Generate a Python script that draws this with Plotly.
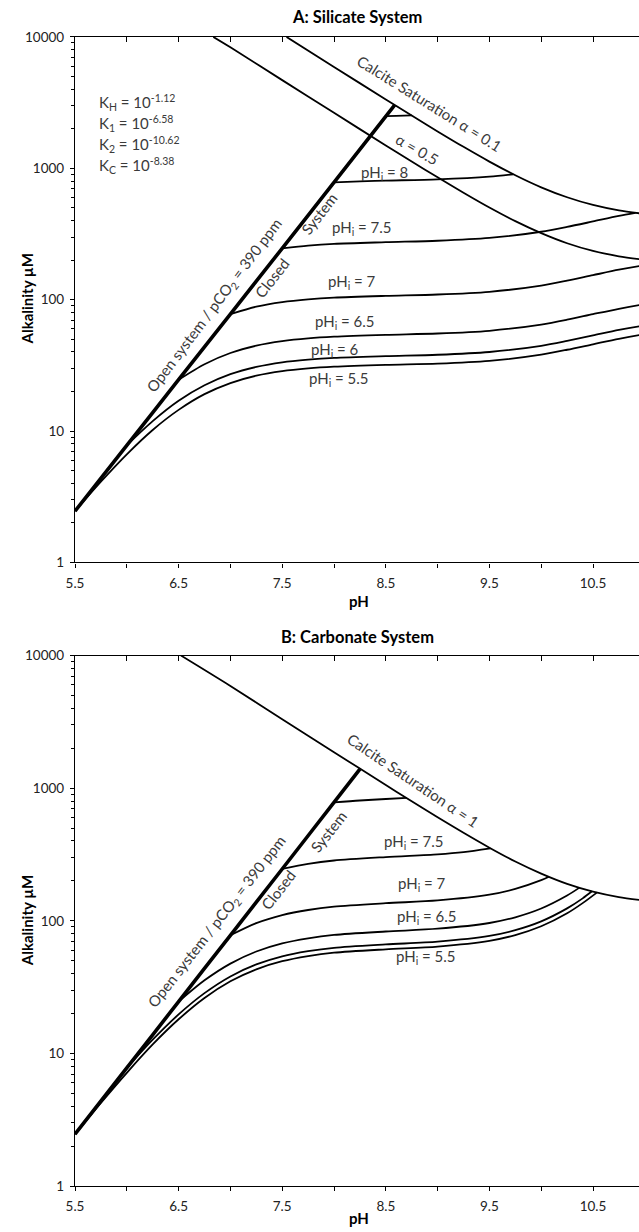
import plotly.graph_objects as go

# ---------------- DATA ----------------
# Panel A: Silicate system
open_ph_A = [5.5, 6.0, 6.5, 7.0, 7.5, 8.0, 8.585]
open_alk_A = [2.46, 7.78, 24.6, 77.8, 246, 782, 3030]

sat01_ph_A = [7.542, 8.0, 8.5, 8.75, 9.0, 9.25, 9.5, 9.75, 10.0, 10.25, 10.5, 10.75, 11.0, 11.1]
sat01_alk_A = [10000, 5910, 3341, 2520, 1909, 1457, 1125, 886, 717, 602, 526, 478, 449, 440]

sat05_ph_A = [6.835, 7.0, 7.5, 8.0, 8.5, 8.75, 9.0, 9.25, 9.5, 9.75, 10.0, 10.25, 10.5, 10.75, 11.0, 11.1]
sat05_alk_A = [10000, 8338, 4691, 2643, 1494, 1127, 854, 652, 503, 396, 321, 269, 235, 214, 201, 197]

A_ph_55 = [5.5, 5.75, 6.0, 6.25, 6.5, 6.75, 7.0, 7.25, 7.5, 7.75, 8.0, 8.5, 9.0, 9.5, 10.0, 10.25, 10.5, 10.75, 11.0, 11.1]
A_alk_55 = [2.46, 4.12, 6.66, 10.2, 14.5, 19.1, 23.2, 26.4, 28.6, 30.0, 30.9, 31.9, 32.6, 34.2, 38.2, 41.6, 45.8, 50.4, 54.6, 56.0]

A_ph_60 = [6.0, 6.25, 6.5, 6.75, 7.0, 7.25, 7.5, 7.75, 8.0, 8.5, 9.0, 9.5, 10.0, 10.25, 10.5, 10.75, 11.0, 11.1]
A_alk_60 = [7.79, 11.9, 17.0, 22.3, 27.1, 30.8, 33.4, 35.0, 36.1, 37.2, 38.1, 40.0, 44.6, 48.6, 53.5, 58.9, 63.8, 65.5]

A_ph_65 = [6.5, 6.75, 7.0, 7.25, 7.5, 7.75, 8.0, 8.5, 9.0, 9.5, 10.0, 10.25, 10.5, 10.75, 11.0, 11.1]
A_alk_65 = [24.6, 32.3, 39.3, 44.7, 48.4, 50.8, 52.3, 54.0, 55.3, 58.0, 64.7, 70.4, 77.6, 85.3, 92.5, 95.0]

A_ph_70 = [7.0, 7.25, 7.5, 7.75, 8.0, 8.5, 9.0, 9.5, 10.0, 10.25, 10.5, 10.75, 11.0, 11.1]
A_alk_70 = [77.8, 88.5, 95.9, 100.6, 103.7, 106.9, 109.5, 114.8, 128.1, 139.5, 153.7, 169.1, 183.2, 188.0]

A_ph_75 = [7.5, 7.75, 8.0, 8.5, 9.0, 9.5, 10.0, 10.25, 10.5, 10.75, 10.91]
A_alk_75 = [246, 258, 266, 274, 281, 295, 329, 358, 394, 434, 458]

A_ph_80 = [8.0, 8.25, 8.5, 9.0, 9.5, 9.73]
A_alk_80 = [781, 795, 806, 825, 865, 901]

A_ph_85 = [8.5, 8.6, 8.75]
A_alk_85 = [2497, 2508, 2527]

# Panel B: Carbonate system
open_ph_B = [5.5, 6.0, 6.5, 7.0, 7.5, 8.0, 8.25]
open_alk_B = [2.46, 7.78, 24.6, 77.8, 246, 782, 1395]

sat1_ph_B = [6.523, 7.0, 7.5, 8.0, 8.5, 8.75, 9.0, 9.25, 9.5, 9.75, 10.0, 10.25, 10.5, 10.75, 11.0, 11.1]
sat1_alk_B = [10000, 5896, 3317, 1869, 1056, 797, 604, 461, 356, 280, 227, 190, 166, 151, 142, 139]

B_ph_55 = [5.5, 5.75, 6.0, 6.25, 6.5, 6.75, 7.0, 7.25, 7.5, 7.75, 8.0, 8.5, 9.0, 9.5, 9.75, 10.0, 10.25, 10.4, 10.54]
B_alk_55 = [2.46, 4.24, 7.15, 11.7, 18.1, 26.2, 35.0, 43.1, 49.6, 54.2, 57.5, 61.0, 64.0, 70.7, 78.1, 91.0, 114, 136, 164]

B_ph_60 = [6.0, 6.25, 6.5, 6.75, 7.0, 7.25, 7.5, 7.75, 8.0, 8.5, 9.0, 9.5, 9.75, 10.0, 10.25, 10.4, 10.49]
B_alk_60 = [7.79, 12.7, 19.7, 28.5, 38.1, 46.9, 54.0, 59.0, 62.6, 66.4, 69.7, 77.0, 85.1, 99.1, 124.1, 147.7, 167]

B_ph_65 = [6.5, 6.75, 7.0, 7.25, 7.5, 7.75, 8.0, 8.5, 9.0, 9.5, 9.75, 10.0, 10.25, 10.37]
B_alk_65 = [24.6, 35.6, 47.6, 58.7, 67.6, 73.8, 78.3, 83.1, 87.2, 96.3, 106.4, 123.9, 155.2, 178]

B_ph_70 = [7.0, 7.25, 7.5, 7.75, 8.0, 8.5, 9.0, 9.5, 9.75, 10.0, 10.075]
B_alk_70 = [77.8, 96.0, 110.4, 120.7, 127.9, 135.8, 142.5, 157.4, 174.0, 202.5, 215]

B_ph_75 = [7.5, 7.75, 8.0, 8.5, 9.0, 9.25, 9.51]
B_alk_75 = [246, 268.8, 285, 302.6, 317.4, 329.8, 352]

B_ph_80 = [8.0, 8.25, 8.5, 8.7]
B_alk_80 = [781, 808, 829, 844]

x_tickvals = [5.5, 6.0, 6.5, 7.0, 7.5, 8.0, 8.5, 9.0, 9.5, 10.0, 10.5, 11.0]
x_ticktext = ["5.5", "", "6.5", "", "7.5", "", "8.5", "", "9.5", "", "10.5", ""]
y_tickvals = [1, 10, 100, 1000, 10000]
y_ticktext = ["1", "10", "100", "1000", "10000"]
y_minor = [m * d for d in (1, 10, 100, 1000) for m in range(2, 10)]

# ---------------- LAYOUT HELPERS ----------------
W, H = 639, 1232
L = 75             # x of the axis origin
UNIT = 103.6       # px per pH unit in the reference
SQ, SQ0 = 0.986, 8.8   # observed vertical placement correction
FONT = "Lato, 'Open Sans', sans-serif"
TXT = "#3a3a3a"


def px(xp):
    return (xp - L) / (W - L)


def py(yp):
    page = (yp - SQ0) / SQ
    return 1 - page / H


fig = go.Figure()


def line(xs, ys, xa, ya, w=1.8):
    fig.add_trace(go.Scatter(x=xs, y=ys, xaxis=xa, yaxis=ya, mode="lines",
                             line=dict(color="black", width=w, shape="spline", smoothing=0.8),
                             hoverinfo="skip", showlegend=False))


# Panel A traces
for xs, ys in [(sat01_ph_A, sat01_alk_A), (sat05_ph_A, sat05_alk_A),
               (A_ph_55, A_alk_55), (A_ph_60, A_alk_60), (A_ph_65, A_alk_65),
               (A_ph_70, A_alk_70), (A_ph_75, A_alk_75), (A_ph_80, A_alk_80),
               (A_ph_85, A_alk_85)]:
    line(xs, ys, "x", "y")
line(open_ph_A, open_alk_A, "x", "y", w=3.6)

# Panel B traces
for xs, ys in [(sat1_ph_B, sat1_alk_B),
               (B_ph_55, B_alk_55), (B_ph_60, B_alk_60), (B_ph_65, B_alk_65),
               (B_ph_70, B_alk_70), (B_ph_75, B_alk_75), (B_ph_80, B_alk_80)]:
    line(xs, ys, "x2", "y2")
line(open_ph_B, open_alk_B, "x2", "y2", w=3.6)

XR = [5.5, 5.5 + (W - L) / UNIT]
tickfont = dict(family=FONT, size=13.5, color="#222")

xcommon = dict(range=XR, tickmode="array", tickvals=x_tickvals, ticktext=x_ticktext,
               ticks="outside", ticklen=4, tickwidth=1, tickcolor="black",
               showline=True, linecolor="black", linewidth=1.2,
               showgrid=False, zeroline=False, tickfont=tickfont, ticklabelstandoff=4)
xtop = dict(range=XR, tickmode="array", tickvals=x_tickvals, ticks="inside", ticklen=5,
            tickwidth=1, tickcolor="black", showticklabels=False, side="top",
            showline=True, linecolor="black", linewidth=1.2, showgrid=False, zeroline=False)
ycommon = dict(type="log", range=[0, 4], tickmode="array", tickvals=y_tickvals, ticktext=y_ticktext,
               ticks="outside", ticklen=4, tickwidth=1, tickcolor="black",
               minor=dict(tickmode="array", tickvals=y_minor, ticks="outside", ticklen=3,
                          tickcolor="black", tickwidth=1, showgrid=False),
               showline=True, linecolor="black", linewidth=1.2,
               showgrid=False, zeroline=False, tickfont=tickfont, ticklabelstandoff=3)

yA = [py(562.7), py(37.7)]
yB = [py(1185.7), py(655.7)]

fig.update_layout(
    width=W, height=H, margin=dict(l=L, r=0, t=0, b=0),
    paper_bgcolor="white", plot_bgcolor="white",
    xaxis=dict(domain=[0, 1], anchor="y", **xcommon),
    yaxis=dict(domain=yA, anchor="x", **ycommon),
    xaxis2=dict(domain=[0, 1], anchor="y2", **xcommon),
    yaxis2=dict(domain=yB, anchor="x2", **ycommon),
    xaxis3=dict(overlaying="x", anchor="y", **xtop),
    xaxis4=dict(overlaying="x2", anchor="y2", **xtop),
)
# keep the top axes drawn
fig.add_trace(go.Scatter(x=[None], y=[None], xaxis="x3", yaxis="y", showlegend=False, hoverinfo="skip"))
fig.add_trace(go.Scatter(x=[None], y=[None], xaxis="x4", yaxis="y2", showlegend=False, hoverinfo="skip"))

ann = []


def text(s, xp, yp, size=15, angle=0, color=TXT, bold=False, xanchor="center"):
    ann.append(dict(text=("<b>%s</b>" % s) if bold else s, x=px(xp), y=py(yp),
                    xref="paper", yref="paper", showarrow=False, textangle=angle,
                    xanchor=xanchor, yanchor="middle",
                    font=dict(family=FONT, size=size, color=color)))


# Titles and axis titles
text("A: Silicate System", 357, 18, size=16.5, color="black", bold=True)
text("B: Carbonate System", 357, 637, size=16.5, color="black", bold=True)
text("Alkalinity µM", 27, 300, size=15, angle=-90, color="black", bold=True)
text("Alkalinity µM", 27, 921, size=15, angle=-90, color="black", bold=True)
text("pH", 359, 601, size=15, color="black", bold=True)
text("pH", 359, 1218, size=15, color="black", bold=True)

# Panel A labels
text("K<sub>H</sub> = 10<sup>-1.12</sup>", 97, 103, xanchor="left")
text("K<sub>1</sub> = 10<sup>-6.58</sup>", 97, 124, xanchor="left")
text("K<sub>2</sub> = 10<sup>-10.62</sup>", 97, 145, xanchor="left")
text("K<sub>C</sub> = 10<sup>-8.38</sup>", 97, 166, xanchor="left")
text("Calcite Saturation α = 0.1", 429, 104, angle=32)
text("α = 0.5", 417, 150, angle=30)
text("pH<sub>i</sub> = 8", 384, 174)
text("pH<sub>i</sub> = 7.5", 362, 229)
text("pH<sub>i</sub> = 7", 352, 283)
text("pH<sub>i</sub> = 6.5", 345, 322)
text("pH<sub>i</sub> = 6", 335, 350)
text("pH<sub>i</sub> = 5.5", 339, 379)
text("System", 319, 215, angle=-52)
text("Closed", 272, 279, angle=-52)
text("Open system / pCO<sub>2</sub> = 390 ppm", 214, 306, angle=-53)

# Panel B labels
text("Calcite Saturation α = 1", 413, 780, angle=34)
text("pH<sub>i</sub> = 7.5", 414, 842)
text("pH<sub>i</sub> = 7", 422, 884)
text("pH<sub>i</sub> = 6.5", 427, 917)
text("pH<sub>i</sub> = 5.5", 426, 957)
text("System", 328, 832, angle=-52)
text("Closed", 278, 890, angle=-52)
text("Open system / pCO<sub>2</sub> = 390 ppm", 217, 922, angle=-52)

fig.update_layout(annotations=ann)
fig.write_html(
    "out.html",
    config={"displayModeBar": False},
    post_script="document.documentElement.style.overflow='hidden';"
                "document.body.style.margin='0';document.body.style.overflow='hidden';",
)
